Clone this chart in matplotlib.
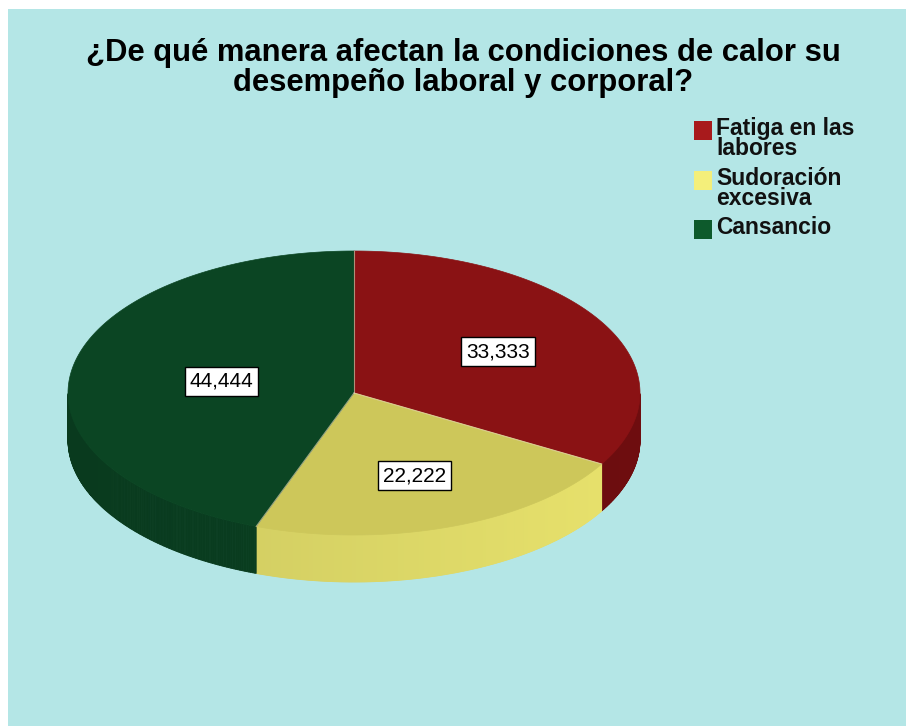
import numpy as np
import matplotlib
matplotlib.use("Agg")
import matplotlib.pyplot as plt
from matplotlib.patches import Polygon, Rectangle
from matplotlib.colors import to_rgb

plt.rcParams["font.family"] = ["Liberation Sans", "DejaVu Sans"]

# Data
categories = ["Fatiga en las\nlabores", "Sudoración\nexcesiva", "Cansancio"]
percentages = [33.333, 22.222, 44.444]
value_labels = ["33,333", "22,222", "44,444"]

title = "¿De qué manera afectan la condiciones de calor su\ndesempeño laboral y corporal?"

# Styling
top_colors = ["#8a1214", "#cdc75a", "#0b4523"]
legend_colors = ["#a81a1c", "#f4ef7a", "#0d5a2c"]
side_colors = ["#6e0d0f", "#e8e26c", "#0a4222"]
bg_color = "#b4e6e6"

W, H = 906, 726
fig = plt.figure(figsize=(W / 100, H / 100), dpi=100, facecolor="white")
ax = fig.add_axes([0, 0, 1, 1])
ax.set_xlim(0, W)
ax.set_ylim(H, 0)
ax.axis("off")

# Background panel
ax.add_patch(Rectangle((8, 9), W - 8, H - 9, facecolor=bg_color, edgecolor="none", zorder=0))

# Pie geometry (pixel space, y downward)
cx, cy = 354, 393
rx, ry = 286, 142
depth = 47
label_r = [0.58, 0.62, 0.47]


def pt(theta_deg, r=1.0, dy=0.0):
    t = np.deg2rad(theta_deg)
    return cx + r * rx * np.cos(t), cy - r * ry * np.sin(t) + dy


# Slice angle ranges: start at 12 o'clock, clockwise
total = sum(percentages)
starts, ends = [], []
a = 90.0
for p in percentages:
    sweep = 360.0 * p / total
    starts.append(a)
    ends.append(a - sweep)
    a -= sweep

# Side walls: visible where sin(theta) < 0 (front half)
for i in range(len(percentages)):
    s, e = starts[i], ends[i]
    thetas = np.linspace(e, s, 400)
    th = np.mod(thetas, 360)
    vis = (th > 180) & (th < 360)
    if not vis.any():
        continue
    tv = thetas[vis]
    base = np.array(to_rgb(side_colors[i]))
    for j in range(len(tv) - 1):
        t0, t1 = tv[j], tv[j + 1]
        if t1 - t0 > 2:
            continue
        x0, y0 = pt(t0)
        x1, y1 = pt(t1)
        shade = 0.88 + 0.12 * (np.cos(np.deg2rad(t0)) + 1) / 2
        col = np.clip(base * shade, 0, 1)
        poly = Polygon([(x0, y0), (x1, y1), (x1, y1 + depth), (x0, y0 + depth)],
                       closed=True, facecolor=col, edgecolor=col, linewidth=0.6, zorder=2)
        ax.add_patch(poly)

# Top faces
for i in range(len(percentages)):
    th = np.linspace(starts[i], ends[i], 300)
    xs, ys = pt(th)
    verts = [(cx, cy)] + list(zip(xs, ys))
    ax.add_patch(Polygon(verts, closed=True, facecolor=top_colors[i],
                         edgecolor=top_colors[i], linewidth=0.5, zorder=3))

# Thin light separators between slices on the top face
for a0 in starts:
    x1, y1 = pt(a0)
    ax.plot([cx, x1], [cy, y1], color="#e8d8b8", linewidth=0.8, alpha=0.6, zorder=4)

# Value labels
for i in range(len(percentages)):
    mid = (starts[i] + ends[i]) / 2
    lx, ly = pt(mid, r=label_r[i])
    ax.text(lx, ly, value_labels[i], fontsize=15, ha="center", va="center", color="black",
            zorder=6,
            bbox=dict(boxstyle="square,pad=0.24", facecolor="white", edgecolor="black", linewidth=1))

# Title
fig.text(463 / W, 1 - 68 / H, title, ha="center", va="center", fontsize=22.3,
         fontweight="bold", linespacing=1.0, color="black")

# Legend
leg_x, leg_y = 694, [121, 171, 220]
for i, cat in enumerate(categories):
    ax.add_patch(Rectangle((leg_x, leg_y[i]), 18, 19, facecolor=legend_colors[i],
                           edgecolor="none", zorder=5))
    ax.text(leg_x + 22, leg_y[i] - 4, cat, fontsize=16.5, fontweight="bold", ha="left",
            va="top", linespacing=0.82, color="#111111", zorder=5)

fig.savefig("out.png", dpi=100, facecolor=fig.get_facecolor())
